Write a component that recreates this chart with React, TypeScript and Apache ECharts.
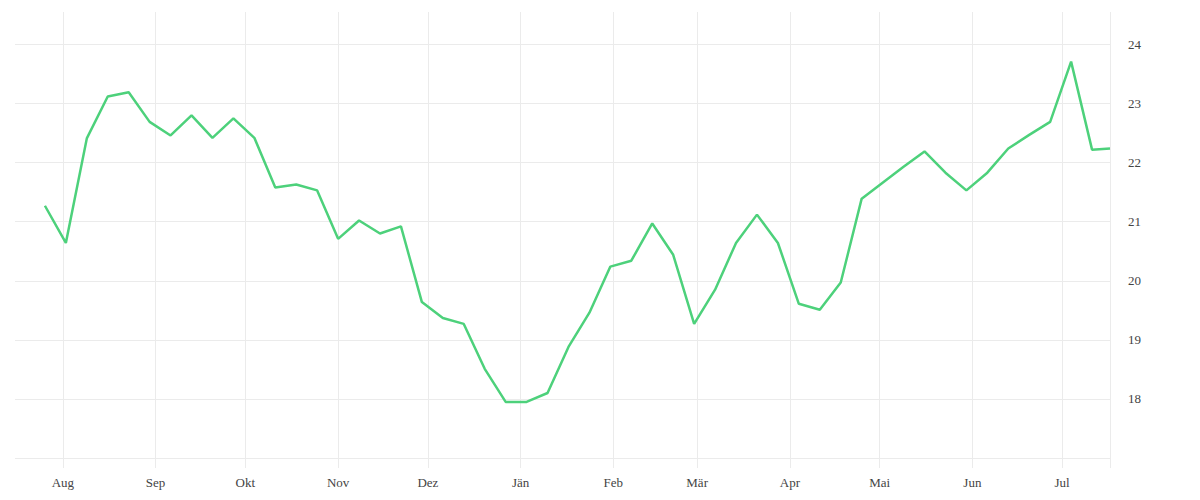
import React, { useEffect, useRef } from "react";
import * as echarts from "echarts";

// x-axis range (one category per day)
const AXIS_START = "2022-07-16";
const AXIS_END = "2023-07-17";

// month tick labels (index = month number - 1)
const MONTH_LABELS = ["Jän", "Feb", "Mär", "Apr", "Mai", "Jun", "Jul", "Aug", "Sep", "Okt", "Nov", "Dez"];

// weekly observation dates
const pointDates = [
  "2022-07-26", "2022-08-02", "2022-08-09", "2022-08-16", "2022-08-23", "2022-08-30",
  "2022-09-06", "2022-09-13", "2022-09-20", "2022-09-27",
  "2022-10-04", "2022-10-11", "2022-10-18", "2022-10-25",
  "2022-11-01", "2022-11-08", "2022-11-15", "2022-11-22", "2022-11-29",
  "2022-12-06", "2022-12-13", "2022-12-20", "2022-12-27",
  "2023-01-03", "2023-01-10", "2023-01-17", "2023-01-24", "2023-01-31",
  "2023-02-07", "2023-02-14", "2023-02-21", "2023-02-28",
  "2023-03-07", "2023-03-14", "2023-03-21", "2023-03-28",
  "2023-04-04", "2023-04-11", "2023-04-18", "2023-04-25",
  "2023-05-02", "2023-05-09", "2023-05-16", "2023-05-23", "2023-05-30",
  "2023-06-06", "2023-06-13", "2023-06-20", "2023-06-27",
  "2023-07-04", "2023-07-11", "2023-07-17",
];

// series values
const values = [
  21.27, 20.64, 22.41, 23.12, 23.19, 22.69,
  22.46, 22.8, 22.42, 22.75,
  22.42, 21.58, 21.63, 21.53,
  20.71, 21.02, 20.8, 20.92, 19.64,
  19.37, 19.27, 18.51, 17.95,
  17.95, 18.1, 18.88, 19.46, 20.24,
  20.34, 20.97, 20.44, 19.27,
  19.85, 20.64, 21.12, 20.64,
  19.61, 19.51, 19.97, 21.39,
  21.66, 21.93, 22.19, 21.83, 21.53,
  21.83, 22.24, 22.47, 22.69,
  23.71, 22.22, 22.24,
];

// y axis
const Y_MIN = 17;
const Y_MAX = 24.55;
const Y_INTERVAL = 1;

function buildDays(start: string, end: string): string[] {
  const out: string[] = [];
  const [sy, sm, sd] = start.split("-").map(Number);
  const [ey, em, ed] = end.split("-").map(Number);
  let t = Date.UTC(sy, sm - 1, sd);
  const e = Date.UTC(ey, em - 1, ed);
  while (t <= e) {
    out.push(new Date(t).toISOString().slice(0, 10));
    t += 86400000;
  }
  return out;
}

export default function App() {
  const ref = useRef<HTMLDivElement>(null);

  useEffect(() => {
    if (!ref.current) return;
    const chart = echarts.init(ref.current, undefined, { renderer: "svg" });
    const days = buildDays(AXIS_START, AXIS_END);
    const last = days.length - 1;
    const isMonthStart = (_i: number, v: string) => v.slice(8) === "01";
    const isGridTick = (i: number, v: string) => v.slice(8) === "01" || i === last;
    const font = "'Liberation Serif', 'DejaVu Serif', serif";
    const gridColor = "#ebebeb";
    const nLines = Math.floor((Y_MAX - Y_MIN) / Y_INTERVAL) + 1;
    const splitColors: string[] = [];
    for (let k = 0; k < nLines; k++) splitColors.push(gridColor);
    splitColors.push("rgba(0,0,0,0)");

    chart.setOption({
      animation: false,
      backgroundColor: "#ffffff",
      grid: { left: 15, right: 90, top: 12, bottom: 42, containLabel: false },
      xAxis: {
        type: "category",
        data: days,
        boundaryGap: false,
        axisLine: { show: false },
        axisTick: {
          show: true,
          length: 10,
          interval: isGridTick,
          lineStyle: { color: gridColor, width: 1 },
        },
        splitLine: {
          show: true,
          interval: isGridTick,
          lineStyle: { color: gridColor, width: 1 },
        },
        axisLabel: {
          interval: isMonthStart,
          formatter: (v: string) => MONTH_LABELS[Number(v.slice(5, 7)) - 1],
          margin: 18,
          fontFamily: font,
          fontSize: 13,
          color: "#444",
        },
      },
      yAxis: {
        type: "value",
        position: "right",
        min: Y_MIN,
        max: Y_MAX,
        interval: Y_INTERVAL,
        axisLine: { show: false },
        axisTick: { show: false },
        splitLine: { show: true, lineStyle: { color: splitColors, width: 1 } },
        axisLabel: {
          margin: 18,
          fontFamily: font,
          fontSize: 13,
          color: "#444",
          formatter: (v: number) => (Number.isInteger(v) && v > Y_MIN ? String(v) : ""),
        },
      },
      series: [
        {
          type: "line",
          data: pointDates.map((d, i) => [d, values[i]]),
          showSymbol: false,
          symbol: "none",
          lineStyle: { color: "#4dd17b", width: 2.5 },
          silent: true,
        },
      ],
    });
    return () => chart.dispose();
  }, []);

  return (
    <div
      ref={ref}
      style={{ position: "absolute", left: 0, top: 0, width: 1200, height: 500 }}
    />
  );
}
